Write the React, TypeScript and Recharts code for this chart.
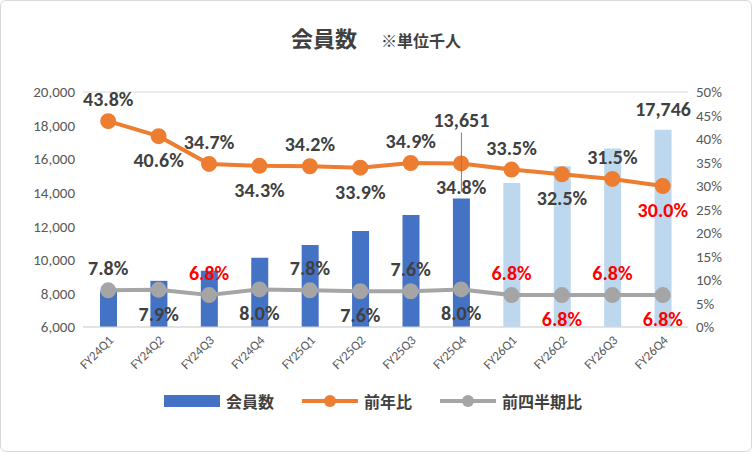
import React from 'react';
import { ComposedChart, Bar, Line, XAxis, YAxis, CartesianGrid, Legend, Cell, LabelList } from 'recharts';

const categories = ['FY24Q1','FY24Q2','FY24Q3','FY24Q4','FY25Q1','FY25Q2','FY25Q3','FY25Q4','FY26Q1','FY26Q2','FY26Q3','FY26Q4'];
const members = [8120, 8750, 9350, 10120, 10890, 11720, 12670, 13651, 14579, 15571, 16630, 17746];
const yoy = [43.8, 40.6, 34.7, 34.3, 34.2, 33.9, 34.9, 34.8, 33.5, 32.5, 31.5, 30.0];
const qoq = [7.8, 7.9, 6.8, 8.0, 7.8, 7.6, 7.6, 8.0, 6.8, 6.8, 6.8, 6.8];
const forecast = [false,false,false,false,false,false,false,false,true,true,true,true];
const memberLabels = ['', '', '', '', '', '', '', '13,651', '', '', '', '17,746'];
const leftTicks = [6000, 8000, 10000, 12000, 14000, 16000, 18000, 20000];
const rightTicks = [0, 5, 10, 15, 20, 25, 30, 35, 40, 45, 50];
const legendItems = [
  { name: '会員数', color: '#4472C4', kind: 'rect' },
  { name: '前年比', color: '#ED7D31', kind: 'line' },
  { name: '前四半期比', color: '#A5A5A5', kind: 'line' },
];

const data = categories.map((c, i) => ({ c, members: members[i], yoy: yoy[i], qoq: qoq[i], i }));

const pctLabel = (vals: number[], redIdx: (i: number) => boolean) => (props: any) => {
  const { x, y, index } = props;
  const above = index % 2 === 0;
  return (
    <text x={x} y={above ? y - 15 : y + 31} textAnchor="middle" fontSize={20} fontWeight="bold"
      fill={redIdx(index) ? '#FF0000' : '#404040'}>
      {vals[index].toFixed(1)}%
    </text>
  );
};

const barLabel = (props: any) => {
  const { x, y, width, index } = props;
  const t = memberLabels[index];
  if (!t) return null;
  return (
    <g>
      {index === 7 && <line x1={x + width / 2} x2={x + width / 2} y1={y - 66} y2={y - 7} stroke="#808080" />}
      <text x={x + width / 2} y={index === 7 ? y - 72 : y - 14} textAnchor="middle" fontSize={20} fontWeight="bold" fill="#404040">{t}</text>
    </g>
  );
};

const XTick = (props: any) => {
  const { x, y, payload } = props;
  return (
    <text x={x + 6} y={y + 6} textAnchor="end" fontSize={13} fill="#595959" transform={`rotate(-45 ${x + 6} ${y + 6})`}>{payload.value}</text>
  );
};

const LegendContent = () => (
  <div style={{ display: 'flex', justifyContent: 'center', gap: 28, fontSize: 16, fontWeight: 'bold', color: '#404040', fontFamily: '"Noto Sans CJK JP", sans-serif' }}>
    {legendItems.map((it) => (
      <span key={it.name} style={{ display: 'flex', alignItems: 'center', gap: 6 }}>
        {it.kind === 'rect' ? (
          <svg width={56} height={12}><rect x={0} y={0} width={56} height={12} fill={it.color} /></svg>
        ) : (
          <svg width={56} height={14}><line x1={0} x2={56} y1={7} y2={7} stroke={it.color} strokeWidth={4} /><circle cx={28} cy={7} r={6} fill={it.color} /></svg>
        )}
        {it.name}
      </span>
    ))}
  </div>
);

export default function App() {
  return (
    <div style={{ position: 'fixed', left: 0, top: 0, width: 750, height: 450, border: '1px solid #d9d9d9', borderRadius: 6, background: '#fff', fontFamily: '"Noto Sans CJK JP", sans-serif' }}>
      <div style={{ position: 'absolute', top: 20, width: '100%', textAlign: 'center', color: '#404040', fontWeight: 'bold' }}>
        <span style={{ fontSize: 22 }}>会員数</span>
        <span style={{ fontSize: 16, marginLeft: 24 }}>※単位千人</span>
      </div>
      <ComposedChart width={750} height={450} data={data} margin={{ top: 91, right: 8, left: 2, bottom: 28 }}
        style={{ fontFamily: 'Calibri, Carlito, "Liberation Sans", sans-serif' }}>
        <CartesianGrid vertical={false} stroke="#d9d9d9" />
        <XAxis dataKey="c" tick={<XTick />} interval={0} axisLine={{ stroke: '#d9d9d9' }} tickLine={false} height={62} />
        <YAxis yAxisId="l" domain={[6000, 20000]} ticks={leftTicks} tickFormatter={(v: number) => v.toLocaleString('en-US')}
          axisLine={false} tickLine={false} width={80} tick={{ fontSize: 15, fill: '#595959' }} />
        <YAxis yAxisId="r" orientation="right" domain={[0, 50]} ticks={rightTicks} tickFormatter={(v: number) => `${v}%`}
          axisLine={false} tickLine={false} width={55} tick={{ fontSize: 15, fill: '#595959' }} />
        <Legend verticalAlign="bottom" height={34} content={<LegendContent />} />
        <Bar yAxisId="l" dataKey="members" name="会員数" barSize={17} isAnimationActive={false} fill="#4472C4">
          {data.map((d, i) => <Cell key={i} fill={forecast[i] ? '#BDD7EE' : '#4472C4'} />)}
          <LabelList dataKey="members" content={barLabel} />
        </Bar>
        <Line yAxisId="r" dataKey="yoy" name="前年比" stroke="#ED7D31" strokeWidth={4} dot={{ r: 6, fill: '#ED7D31', stroke: '#ED7D31' }} isAnimationActive={false}>
          <LabelList dataKey="yoy" content={pctLabel(yoy, (i) => i === 11)} />
        </Line>
        <Line yAxisId="r" dataKey="qoq" name="前四半期比" stroke="#A5A5A5" strokeWidth={4} dot={{ r: 6, fill: '#A5A5A5', stroke: '#A5A5A5' }} isAnimationActive={false}>
          <LabelList dataKey="qoq" content={pctLabel(qoq, (i) => qoq[i] === 6.8)} />
        </Line>
      </ComposedChart>
    </div>
  );
}
